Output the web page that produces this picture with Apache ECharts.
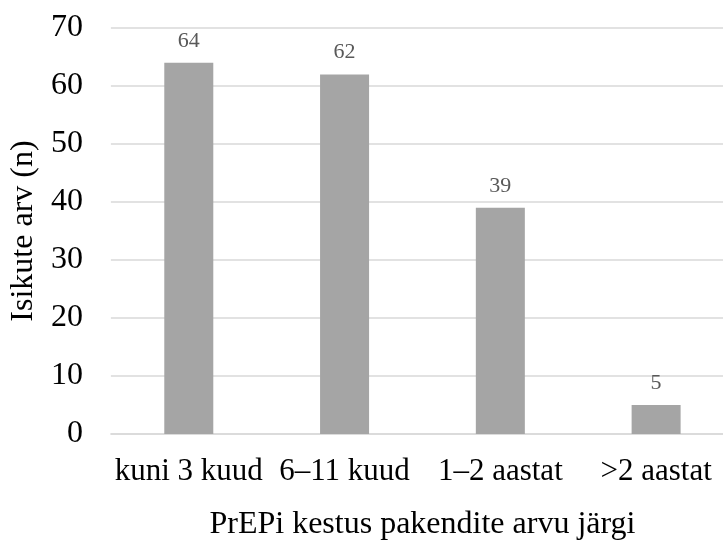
<!DOCTYPE html>
<html>
<head>
<meta charset="utf-8">
<script src="https://cdn.jsdelivr.net/npm/echarts@6/dist/echarts.min.js"></script>
<style>
  html, body { margin: 0; padding: 0; background: #fff; overflow: hidden; }
  #chart { width: 740px; height: 546px; }
</style>
</head>
<body>
<div id="chart"></div>
<script>
// Duration of PrEP use, by number of packages dispensed
const categories = ['kuni 3 kuud', '6–11 kuud', '1–2 aastat', '>2 aastat'];
const counts = [64, 62, 39, 5];
const yTicks = { min: 0, max: 70, interval: 10 };
const xTitle = 'PrEPi kestus pakendite arvu järgi';
const yTitle = 'Isikute arv (n)';

const serif = "'Liberation Serif', serif";

const chart = echarts.init(document.getElementById('chart'), null, { renderer: 'canvas' });
chart.setOption({
  animation: false,
  backgroundColor: '#ffffff',
  textStyle: { fontFamily: serif },
  grid: { left: 108, top: 28, right: 6, bottom: 112, containLabel: false },
  xAxis: {
    type: 'category',
    data: categories,
    name: xTitle,
    nameLocation: 'middle',
    nameGap: 75,
    nameTextStyle: { fontFamily: serif, fontSize: 32, color: '#000' },
    axisLine: { show: true, lineStyle: { color: '#d9d9d9', width: 1.5 } },
    axisTick: { show: false },
    axisLabel: { fontFamily: serif, fontSize: 31, color: '#000', margin: 22, interval: 0 }
  },
  yAxis: {
    type: 'value',
    min: yTicks.min,
    max: yTicks.max,
    interval: yTicks.interval,
    name: yTitle,
    nameLocation: 'middle',
    nameGap: 64,
    nameTextStyle: { fontFamily: serif, fontSize: 32, color: '#000' },
    axisLine: { show: false },
    axisTick: { show: false },
    axisLabel: { fontFamily: serif, fontSize: 32, color: '#000', margin: 28, padding: [4, 0, 0, 0] },
    splitLine: { show: true, lineStyle: { color: '#d9d9d9', width: 1.5 } }
  },
  series: [{
    type: 'bar',
    data: counts,
    barWidth: 49,
    itemStyle: { color: '#a5a5a5' },
    label: {
      show: true,
      position: 'top',
      distance: 11,
      fontFamily: serif,
      fontSize: 22,
      color: '#595959'
    }
  }]
});
</script>
</body>
</html>
